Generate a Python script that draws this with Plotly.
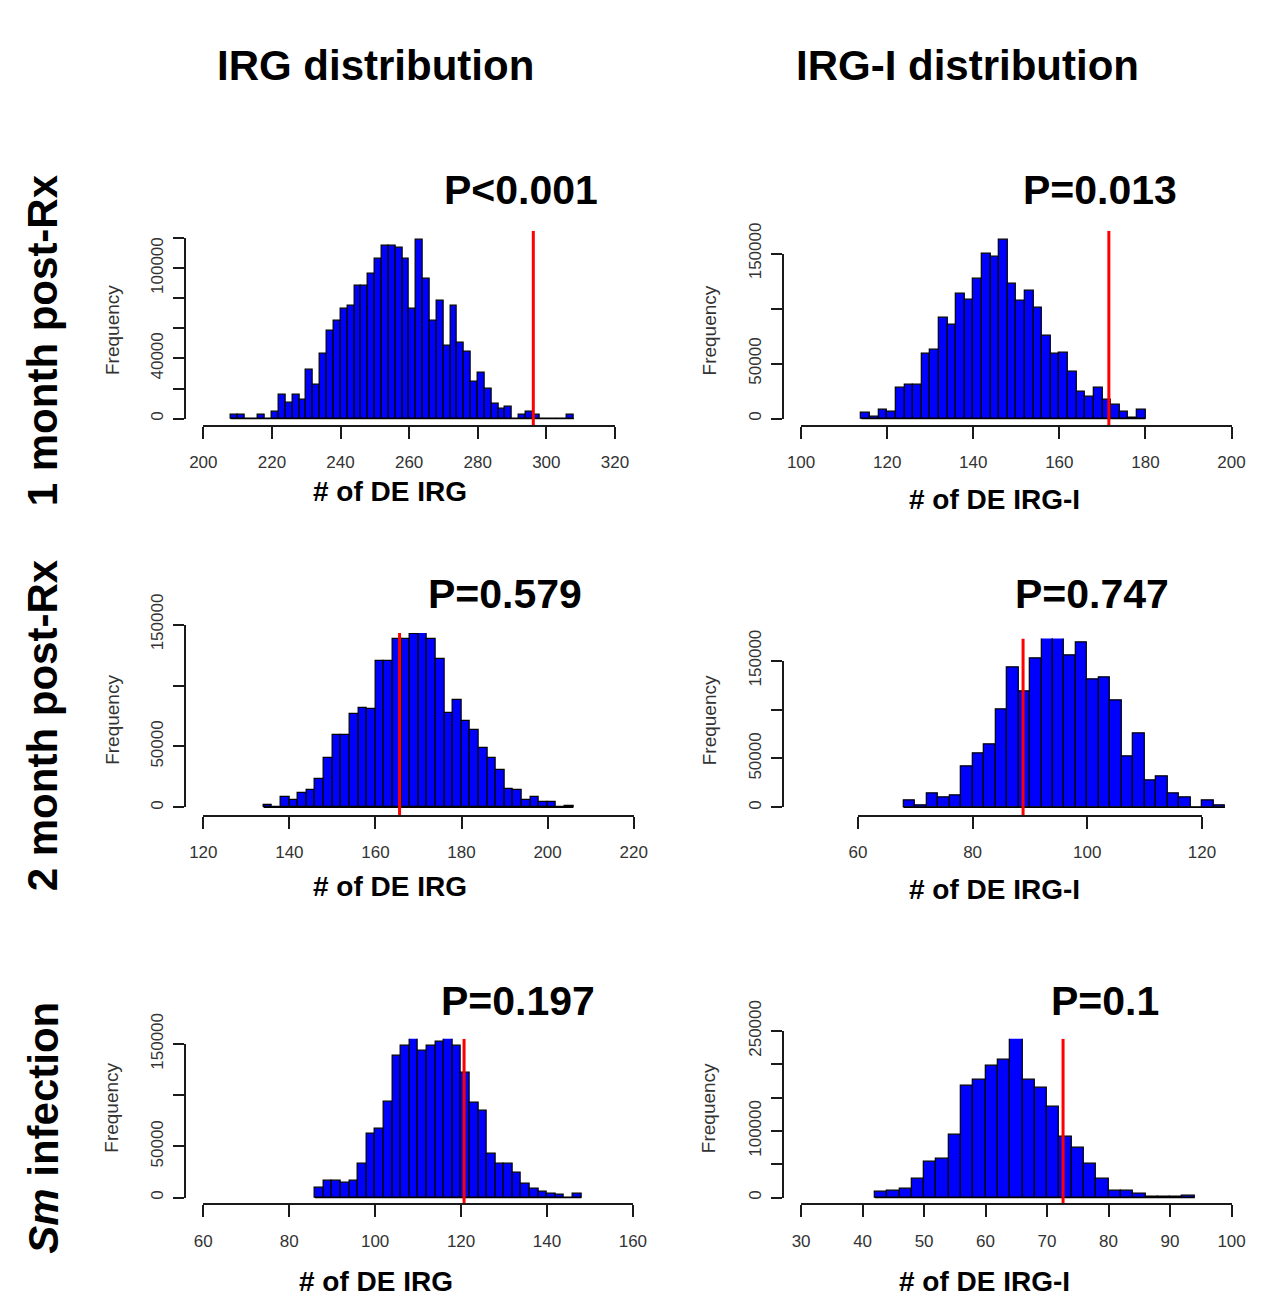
import plotly.graph_objects as go

W, H = 1265, 1299
FONT = "Liberation Sans, Arial, sans-serif"

# ---------------- data: permutation null distributions (bin width 2) ----------------
BIN_WIDTH = 2

irg_1m_start = 208
irg_1m_counts = [2400, 2400, 0, 0, 2400, 0, 4700, 16000, 10400, 16000, 12300, 32600,
                 22700, 42800, 58500, 65000, 73000, 75200, 88500, 88500, 96300, 106500,
                 115000, 115000, 113400, 106500, 73000, 118800, 92900, 64800, 78000,
                 48200, 75200, 50300, 44500, 24400, 30200, 20100, 9900, 6500, 8000, 0,
                 2400, 4500, 2400, 0, 0, 0, 0, 2400]
irg_1m_obs = 296.2

irgi_1m_start = 114
irgi_1m_counts = [5000, 1800, 7700, 6200, 28000, 30700, 30700, 58500, 62900, 91600, 85600,
                  113400, 107500, 127000, 149700, 146800, 162100, 122600, 106900, 115800,
                  101000, 75000, 58500, 59700, 42800, 24500, 19800, 27800, 17100, 12700,
                  5900, 600, 7700]
irgi_1m_obs = 171.5

irg_2m_start = 134
irg_2m_counts = [1900, 300, 8800, 5900, 11500, 14100, 23700, 40200, 59700, 59700, 76500,
                 81800, 80400, 120100, 120100, 138500, 138500, 142200, 142800, 138500,
                 121700, 77800, 88400, 71100, 63900, 49000, 40500, 30600, 15200, 14100,
                 5900, 8300, 4500, 4500, 0, 1300]
irg_2m_obs = 165.6

irgi_2m_start = 68
irgi_2m_counts = [7300, 1700, 13900, 10300, 12300, 42100, 55400, 64000, 100200, 143300,
                  118800, 152000, 176000, 176000, 155000, 168500, 131000, 132700, 108800,
                  52400, 76000, 27500, 31200, 14300, 10600, 0, 7300, 2000]
irgi_2m_obs = 88.8

irg_sm_start = 86
irg_sm_counts = [9800, 16500, 16500, 14600, 16200, 33000, 62500, 67600, 93900, 138300,
                 147800, 157000, 143000, 147800, 152600, 156500, 147800, 121800, 92300,
                 84400, 42800, 33000, 33000, 24700, 13600, 8200, 5700, 3500, 3200, 300, 3500]
irg_sm_obs = 120.7

irgi_sm_start = 42
irgi_sm_counts = [8300, 10200, 13200, 28300, 53100, 58500, 94100, 167200, 176900, 197400,
                  207100, 241000, 176900, 164200, 136500, 91600, 74100, 50700, 28300, 10200,
                  10200, 5800, 1000, 800, 800, 3400]
irgi_sm_obs = 72.6

# tick values / labels
irg_1m_xticks = [200, 220, 240, 260, 280, 300, 320]
irgi_1m_xticks = [100, 120, 140, 160, 180, 200]
irg_2m_xticks = [120, 140, 160, 180, 200, 220]
irgi_2m_xticks = [60, 80, 100, 120]
irg_sm_xticks = [60, 80, 100, 120, 140, 160]
irgi_sm_xticks = [30, 40, 50, 60, 70, 80, 90, 100]

yticks_120k = [0, 20000, 40000, 60000, 80000, 100000, 120000]
ylabels_120k = ["0", "", "40000", "", "", "100000", ""]
yticks_150k = [0, 50000, 100000, 150000]
ylabels_150k = ["0", "50000", "", "150000"]
yticks_250k = [0, 50000, 100000, 150000, 200000, 250000]
ylabels_250k = ["0", "", "100000", "", "", "250000"]

p_labels = ["P<0.001", "P=0.013", "P=0.579", "P=0.747", "P=0.197", "P=0.1"]
col_titles = ["IRG distribution", "IRG-I distribution"]
row_titles = ["1 month post-Rx", "2 month post-Rx", "<i>Sm</i> infection"]
x_titles = ["# of DE IRG", "# of DE IRG-I"]

# ---------------- panel geometry (pixels) ----------------
# xmap: (tick value, pixel of that tick, pixels per unit); ymap: (pixel of 0, pixels per unit)
panels = [
    dict(start=irg_1m_start, counts=irg_1m_counts, obs=irg_1m_obs,
         xt=irg_1m_xticks, yt=yticks_120k, yl=ylabels_120k,
         xmap=(200, 193.6, 3.508), ymap=(397.7, 1.544e-3),
         box=(174.6, 633.6, 205.0, 405.0),
         ptxt=(518, 163), xtitle=(384, 472), freq=(100, 307)),
    dict(start=irgi_1m_start, counts=irgi_1m_counts, obs=irgi_1m_obs,
         xt=irgi_1m_xticks, yt=yticks_150k, yl=ylabels_150k,
         xmap=(100, 804.9, 4.402), ymap=(397.7, 1.1293e-3),
         box=(786.3, 1263.7, 205.0, 405.0),
         ptxt=(1111, 163), xtitle=(1003, 481), freq=(711, 307)),
    dict(start=irg_2m_start, counts=irg_2m_counts, obs=irg_2m_obs,
         xt=irg_2m_xticks, yt=yticks_150k, yl=ylabels_150k,
         xmap=(120, 193.6, 4.401), ymap=(796.7, 1.2513e-3),
         box=(174.6, 652.7, 617.7, 805.3),
         ptxt=(502, 578), xtitle=(384, 878), freq=(100, 707)),
    dict(start=irgi_2m_start, counts=irgi_2m_counts, obs=irgi_2m_obs,
         xt=irgi_2m_xticks, yt=yticks_150k, yl=ylabels_150k,
         xmap=(60, 863.0, 5.865), ymap=(796.7, 1.00467e-3),
         box=(786.3, 1264.0, 623.3, 805.3),
         ptxt=(1102, 578), xtitle=(1003, 881), freq=(711, 707)),
    dict(start=irg_sm_start, counts=irg_sm_counts, obs=irg_sm_obs,
         xt=irg_sm_xticks, yt=yticks_150k, yl=ylabels_150k,
         xmap=(60, 193.6, 4.393), ymap=(1197.0, 1.0513e-3),
         box=(174.6, 652.0, 1034.0, 1204.0),
         ptxt=(515, 995), xtitle=(370, 1283), freq=(100, 1105)),
    dict(start=irgi_sm_start, counts=irgi_sm_counts, obs=irgi_sm_obs,
         xt=irgi_sm_xticks, yt=yticks_250k, yl=ylabels_250k,
         xmap=(30, 804.9, 6.289), ymap=(1197.0, 6.84e-4),
         box=(786.3, 1264.0, 1034.0, 1204.0),
         ptxt=(1116, 995), xtitle=(992, 1283), freq=(711, 1105)),
]

AXIS_COLOR = "#1a1a1a"
TICK_FONT = dict(family=FONT, size=17, color="#333333")


def px_x(px):
    return px / W


def px_y(py):
    return 1 - py / H


fig = go.Figure()
layout_axes = {}
annotations = []

for i, p in enumerate(panels):
    n = i + 1
    dn = i + 7
    xa, ya = ("x", "y") if n == 1 else (f"x{n}", f"y{n}")
    xd, yd = f"x{dn}", f"y{dn}"

    xv0, xpx0, xppu = p["xmap"]
    y0px, yppu = p["ymap"]
    left, right, top, bottom = p["box"]

    def xval(px):
        return xv0 + (px - xpx0) / xppu

    def yval(py):
        return (y0px - py) / yppu

    def xpix(v):
        return xpx0 + (v - xv0) * xppu

    def ypix(v):
        return y0px - v * yppu

    yr = [yval(bottom), yval(top)]

    breaks = [p["start"] + BIN_WIDTH * k for k in range(len(p["counts"]) + 1)]
    centers = [b + BIN_WIDTH / 2 for b in breaks[:-1]]

    # histogram bars
    fig.add_trace(go.Bar(
        x=centers, y=p["counts"], width=BIN_WIDTH,
        marker=dict(color="#0000FF", line=dict(color="black", width=1.2)),
        xaxis=xa, yaxis=ya, showlegend=False, hoverinfo="skip"))
    # baseline under the breaks
    fig.add_trace(go.Scatter(
        x=[breaks[0], breaks[-1]], y=[0, 0], mode="lines",
        line=dict(color="black", width=1.2),
        xaxis=xa, yaxis=ya, showlegend=False, hoverinfo="skip"))
    # observed value
    fig.add_trace(go.Scatter(
        x=[p["obs"], p["obs"]], y=yr, mode="lines",
        line=dict(color="#FF0000", width=3),
        xaxis=xa, yaxis=ya, showlegend=False, hoverinfo="skip"))
    # carrier for the R-style axes
    fig.add_trace(go.Scatter(
        x=[p["xt"][0]], y=[0], mode="markers", marker=dict(opacity=0),
        xaxis=xd, yaxis=yd, showlegend=False, hoverinfo="skip"))

    key_xa = "xaxis" if n == 1 else f"xaxis{n}"
    key_ya = "yaxis" if n == 1 else f"yaxis{n}"
    layout_axes[key_xa] = dict(domain=[px_x(left), px_x(right)],
                               range=[xval(left), xval(right)],
                               anchor=ya, visible=False, fixedrange=True)
    layout_axes[key_ya] = dict(domain=[px_y(bottom), px_y(top)], range=yr,
                               anchor=xa, visible=False, fixedrange=True)

    xt, yt = p["xt"], p["yt"]
    layout_axes[f"xaxis{dn}"] = dict(
        domain=[px_x(xpix(xt[0])), px_x(xpix(xt[-1]))],
        range=[xt[0], xt[-1]], anchor="free", position=px_y(bottom),
        showline=True, linecolor=AXIS_COLOR, linewidth=1.6,
        ticks="outside", ticklen=12, tickwidth=1.6, tickcolor=AXIS_COLOR,
        tickvals=xt, ticktext=[str(v) for v in xt], tickfont=TICK_FONT,
        ticklabelstandoff=9,
        showgrid=False, zeroline=False, fixedrange=True)
    layout_axes[f"yaxis{dn}"] = dict(
        domain=[px_y(ypix(0)), px_y(ypix(yt[-1]))],
        range=[0, yt[-1]], anchor="free", position=px_x(left), side="left",
        showline=True, linecolor=AXIS_COLOR, linewidth=1.6,
        ticks="outside", ticklen=11, tickwidth=1.6, tickcolor=AXIS_COLOR,
        tickvals=yt, ticktext=p["yl"], tickfont=TICK_FONT, tickangle=-90,
        ticklabelstandoff=3,
        showgrid=False, zeroline=False, fixedrange=True)

    # P-value
    annotations.append(dict(text=f"<b>{p_labels[i]}</b>", x=px_x(p["ptxt"][0]),
                            y=px_y(p["ptxt"][1]), xref="paper", yref="paper",
                            showarrow=False, xanchor="center", yanchor="middle",
                            font=dict(family=FONT, size=41, color="black")))
    # x title
    annotations.append(dict(text=f"<b>{x_titles[i % 2]}</b>", x=px_x(p["xtitle"][0]),
                            y=px_y(p["xtitle"][1]), xref="paper", yref="paper",
                            showarrow=False, xanchor="center", yanchor="middle",
                            font=dict(family=FONT, size=28, color="black")))
    # y title
    annotations.append(dict(text="Frequency", x=px_x(p["freq"][0]),
                            y=px_y(p["freq"][1]), xref="paper", yref="paper",
                            showarrow=False, xanchor="center", yanchor="middle",
                            textangle=-90,
                            font=dict(family=FONT, size=19, color="#333333")))

# column headers
for txt, cx in zip(col_titles, [370, 975]):
    annotations.append(dict(text=f"<b>{txt}</b>", x=px_x(cx), y=px_y(35),
                            xref="paper", yref="paper", showarrow=False,
                            xanchor="center", yanchor="middle",
                            font=dict(family=FONT, size=42, color="black")))

# row headers
for txt, cy in zip(row_titles, [317, 712, 1125]):
    annotations.append(dict(text=f"<b>{txt}</b>", x=px_x(30), y=px_y(cy),
                            xref="paper", yref="paper", showarrow=False,
                            xanchor="center", yanchor="middle", textangle=-90,
                            font=dict(family=FONT, size=42, color="black")))

fig.update_layout(
    width=W, height=H, autosize=False,
    margin=dict(l=0, r=0, t=0, b=0, pad=0),
    paper_bgcolor="white", plot_bgcolor="rgba(0,0,0,0)",
    bargap=0, showlegend=False,
    annotations=annotations,
    **layout_axes,
)

fig.write_html("out.html", config={"displayModeBar": False})
